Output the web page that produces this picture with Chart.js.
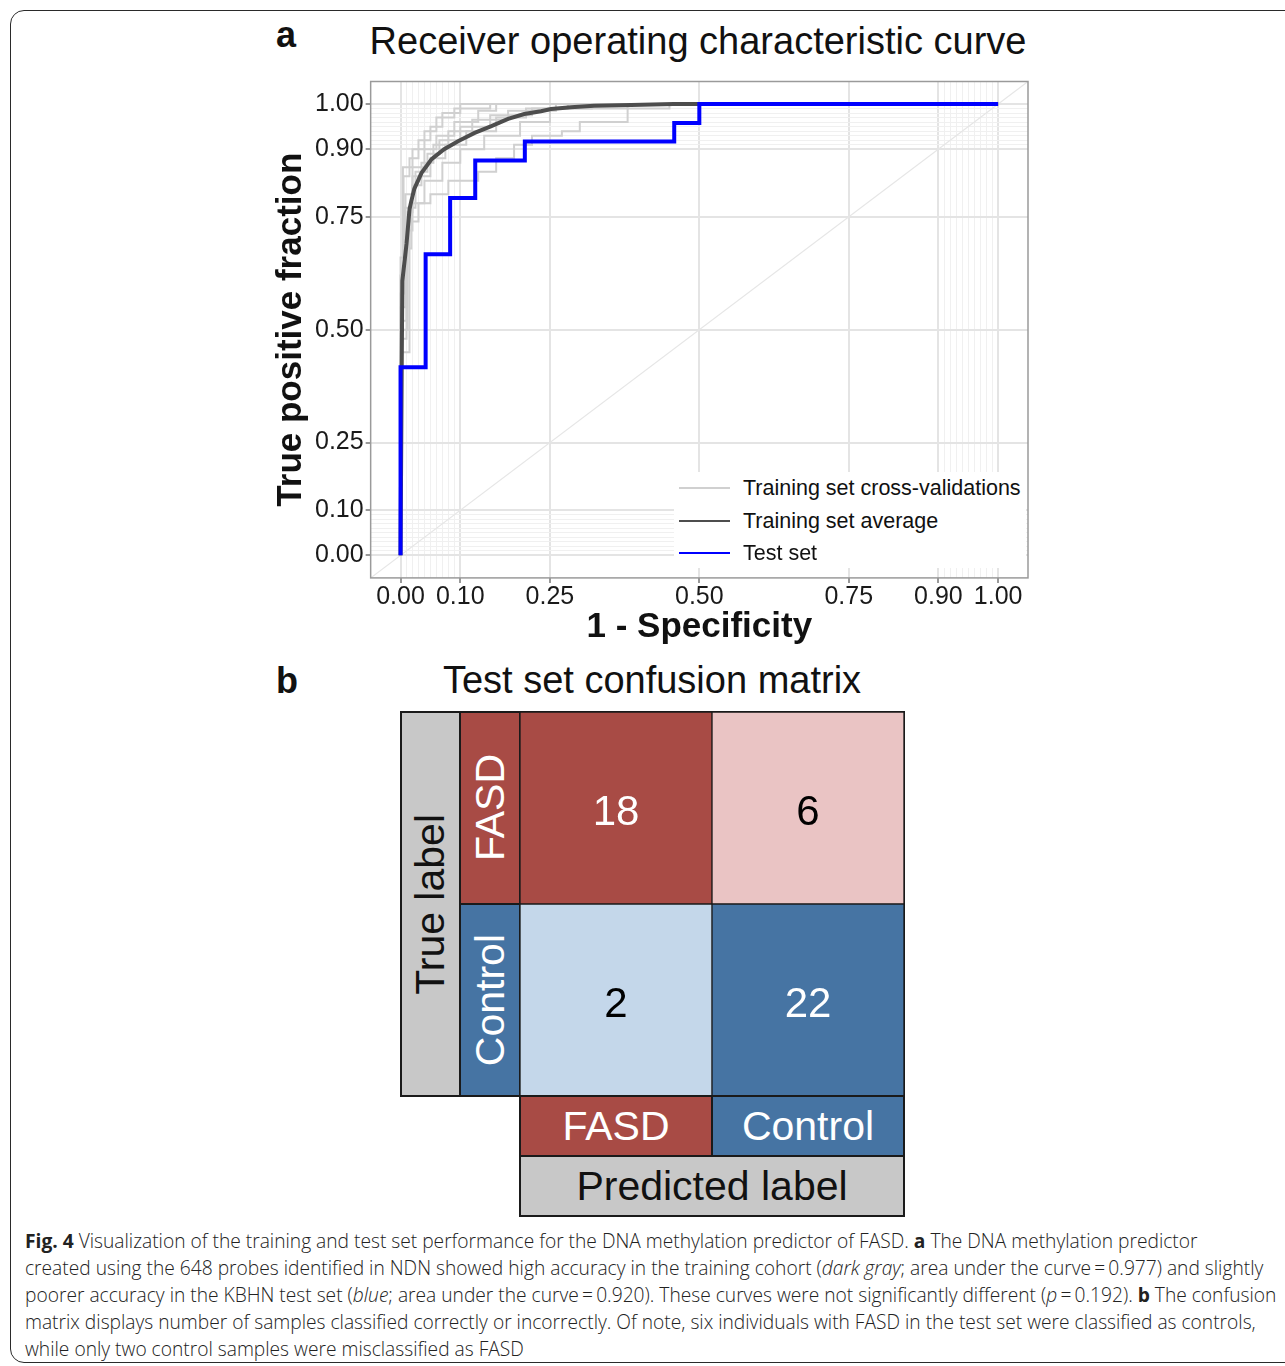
<!DOCTYPE html>
<html>
<head>
<meta charset="utf-8">
<title>Fig. 4 ROC curve and confusion matrix</title>
<script src="https://cdn.jsdelivr.net/npm/chart.js@4.4.0/dist/chart.umd.min.js"></script>
<style>
  html, body { margin: 0; padding: 0; background: #fff; }
  body { width: 1285px; height: 1366px; position: relative; overflow: hidden; font-family: "Liberation Sans", Arial, sans-serif; color: #111; }
  .frame { position: absolute; left: 10px; top: 10px; width: 1300px; height: 1353px; border: 1.5px solid #2a2a2a; border-radius: 14px; box-sizing: border-box; }
  .letter { position: absolute; font-size: 36px; line-height: 36px; font-weight: bold; }
  .title { position: absolute; font-size: 38px; line-height: 38px; white-space: nowrap; transform: translateX(-50%); }
  #rocWrap { position: absolute; left: 250px; top: 67px; width: 790px; height: 581px; }
  #legend { position: absolute; left: 674px; top: 472px; width: 352px; height: 96px; background: #fff; }
  .leg-row { position: absolute; left: 0; height: 32px; width: 352px; }
  .leg-line { position: absolute; left: 5px; width: 51px; top: 15px; height: 2px; }
  .leg-text { position: absolute; left: 69px; top: 0; line-height: 32px; font-size: 21.5px; white-space: nowrap; color: #111; }
  .box { position: absolute; box-sizing: border-box; border: 2px solid #1a1a1a; display: flex; align-items: center; justify-content: center; font-size: 41px; white-space: nowrap; }
  .vert span { writing-mode: vertical-rl; transform: rotate(180deg); }
  #cmWrap { position: absolute; left: 519px; top: 711px; width: 386px; height: 386px; box-sizing: border-box; border: 1px solid #1a1a1a; }
  .caption { position: absolute; left: 25px; top: 1227px; font-family: "Open Sans", sans-serif; font-weight: 300; font-size: 19.2px; line-height: 27px; color: #222; }
  .caption b { font-weight: 700; }
  .caption div { white-space: nowrap; }
</style>
</head>
<body>
<div class="frame"></div>

<div class="letter" style="left:276px; top:17px;">a</div>
<div class="title" style="left:698px; top:22px;">Receiver operating characteristic curve</div>
<div id="rocWrap"><canvas id="rocChart"></canvas></div>
<div id="legend"></div>

<div class="letter" style="left:276px; top:663px;">b</div>
<div class="title" style="left:652px; top:661px;">Test set confusion matrix</div>

<div class="box vert" style="left:400px; top:711px; width:61px; height:386px; background:#c8c8c8; color:#111;"><span>True label</span></div>
<div class="box vert" id="rowFasd" style="left:459px; top:711px; width:62px; height:194px; color:#fff;"><span></span></div>
<div class="box vert" id="rowControl" style="left:459px; top:903px; width:62px; height:194px; color:#fff;"><span></span></div>
<div id="cmWrap"><canvas id="cmChart"></canvas></div>
<div class="box" id="colFasd" style="left:519px; top:1095px; width:194px; height:62px; color:#fff;"></div>
<div class="box" id="colControl" style="left:711px; top:1095px; width:194px; height:62px; color:#fff;"></div>
<div class="box" style="left:519px; top:1155px; width:386px; height:62px; background:#c8c8c8; color:#111;">Predicted label</div>

<div class="caption">
  <div><b>Fig. 4</b> Visualization of the training and test set performance for the DNA methylation predictor of FASD. <b>a</b> The DNA methylation predictor</div>
  <div>created using the 648 probes identified in NDN showed high accuracy in the training cohort (<i>dark gray</i>; area under the curve&thinsp;=&thinsp;0.977) and slightly</div>
  <div>poorer accuracy in the KBHN test set (<i>blue</i>; area under the curve&thinsp;=&thinsp;0.920). These curves were not significantly different (<i>p</i>&thinsp;=&thinsp;0.192). <b>b</b> The confusion</div>
  <div>matrix displays number of samples classified correctly or incorrectly. Of note, six individuals with FASD in the test set were classified as controls,</div>
  <div>while only two control samples were misclassified as FASD</div>
</div>

<script>
// ---- ROC data: [1 - specificity, true positive fraction] ----
const testSet = [[0, 0], [0, 0.417], [0.042, 0.417], [0.042, 0.667], [0.083, 0.667], [0.083, 0.792],
  [0.125, 0.792], [0.125, 0.875], [0.208, 0.875], [0.208, 0.917], [0.458, 0.917], [0.458, 0.958],
  [0.5, 0.958], [0.5, 1], [1, 1]];

const trainingAverage = [[0, 0], [0.002, 0.415], [0.003, 0.608], [0.010, 0.690], [0.015, 0.767],
  [0.018, 0.785], [0.023, 0.812], [0.035, 0.847], [0.052, 0.878], [0.073, 0.900], [0.097, 0.918],
  [0.124, 0.936], [0.152, 0.951], [0.180, 0.967], [0.207, 0.978], [0.235, 0.984], [0.252, 0.989],
  [0.285, 0.993], [0.324, 0.996], [0.386, 0.998], [0.457, 1], [1, 1]];

const cvFold1 = [[0, 0], [0, 0.62], [0.005, 0.62], [0.005, 0.84], [0.015, 0.84], [0.015, 0.88], [0.03, 0.88],
  [0.03, 0.92], [0.05, 0.92], [0.05, 0.95], [0.07, 0.95], [0.07, 0.98], [0.10, 0.98], [0.10, 1], [1, 1]];
const cvFold2 = [[0, 0], [0, 0.55], [0.008, 0.55], [0.008, 0.80], [0.02, 0.80], [0.02, 0.86], [0.04, 0.86],
  [0.04, 0.90], [0.06, 0.90], [0.06, 0.93], [0.09, 0.93], [0.09, 0.96], [0.13, 0.96], [0.13, 0.985],
  [0.16, 0.985], [0.16, 1], [1, 1]];
const cvFold3 = [[0, 0], [0, 0.48], [0.01, 0.48], [0.01, 0.72], [0.02, 0.72], [0.02, 0.82], [0.035, 0.82],
  [0.035, 0.87], [0.055, 0.87], [0.055, 0.91], [0.08, 0.91], [0.08, 0.94], [0.12, 0.94], [0.12, 0.965],
  [0.18, 0.965], [0.18, 0.985], [0.26, 0.985], [0.26, 1], [1, 1]];
const cvFold4 = [[0, 0], [0, 0.45], [0.015, 0.45], [0.015, 0.74], [0.03, 0.74], [0.03, 0.78], [0.05, 0.78],
  [0.05, 0.80], [0.08, 0.80], [0.08, 0.83], [0.13, 0.83], [0.13, 0.85], [0.16, 0.85], [0.16, 0.88],
  [0.19, 0.88], [0.19, 0.91], [0.22, 0.91], [0.22, 0.93], [0.27, 0.93], [0.27, 0.94], [0.30, 0.94],
  [0.30, 0.96], [0.38, 0.96], [0.38, 0.99], [0.45, 0.99], [0.45, 1], [1, 1]];
const cvFold5 = [[0, 0], [0, 0.58], [0.006, 0.58], [0.006, 0.77], [0.025, 0.77], [0.025, 0.85], [0.045, 0.85],
  [0.045, 0.89], [0.065, 0.89], [0.065, 0.92], [0.10, 0.92], [0.10, 0.95], [0.15, 0.95], [0.15, 0.975],
  [0.22, 0.975], [0.22, 0.99], [0.32, 0.99], [0.32, 1], [1, 1]];
const cvFold6 = [[0, 0], [0, 0.52], [0.01, 0.52], [0.01, 0.68], [0.018, 0.68], [0.018, 0.78], [0.04, 0.78],
  [0.04, 0.83], [0.07, 0.83], [0.07, 0.87], [0.10, 0.87], [0.10, 0.90], [0.14, 0.90], [0.14, 0.93],
  [0.20, 0.93], [0.20, 0.96], [0.25, 0.96], [0.25, 0.99], [0.38, 0.99], [0.38, 1], [1, 1]];
const cvFold7 = [[0, 0], [0, 0.66], [0.004, 0.66], [0.004, 0.86], [0.02, 0.86], [0.02, 0.90], [0.04, 0.90],
  [0.04, 0.94], [0.06, 0.94], [0.06, 0.97], [0.09, 0.97], [0.09, 0.99], [0.15, 0.99], [0.15, 1], [1, 1]];
const cvFold8 = [[0, 0], [0, 0.50], [0.012, 0.50], [0.012, 0.76], [0.02, 0.76], [0.02, 0.84], [0.05, 0.84],
  [0.05, 0.88], [0.075, 0.88], [0.075, 0.91], [0.11, 0.91], [0.11, 0.94], [0.16, 0.94], [0.16, 0.97],
  [0.21, 0.97], [0.21, 0.99], [0.28, 0.99], [0.28, 1], [1, 1]];
const cvFolds = [cvFold1, cvFold2, cvFold3, cvFold4, cvFold5, cvFold6, cvFold7, cvFold8];

const chanceLine = [[-0.05, -0.05], [1.05, 1.05]];

// axis breaks (plotROC style: majors plus 0.01 minors near the ends)
const majorBreaks = [0, 0.1, 0.25, 0.5, 0.75, 0.9, 1];
const minorBreaks = [0.01, 0.02, 0.03, 0.04, 0.05, 0.06, 0.07, 0.08, 0.09,
  0.91, 0.92, 0.93, 0.94, 0.95, 0.96, 0.97, 0.98, 0.99];
const allBreaks = majorBreaks.concat(minorBreaks).sort((a, b) => a - b);

// ---- confusion matrix data ----
const predictedLabels = ['FASD', 'Control'];
const trueLabels = ['FASD', 'Control'];
const fasdRowCounts = [18, 6];
const controlRowCounts = [2, 22];

const CV_COLOR = '#d0d0d0';
const AVG_COLOR = '#4d4d4d';
const TEST_COLOR = '#0000ff';
const RED = '#a84b45', PINK = '#eac4c4', LIGHTBLUE = '#c4d7ea', BLUE = '#4674a3';

Chart.defaults.font.family = '"Liberation Sans", Arial, sans-serif';
Chart.defaults.color = '#111';

const toXY = pts => pts.map(p => ({ x: p[0], y: p[1] }));
const isMajor = v => majorBreaks.includes(v);

const datasets = [
  { label: 'Test set', data: toXY(testSet), borderColor: TEST_COLOR, borderWidth: 4, order: 0 },
  { label: 'Training set average', data: toXY(trainingAverage), borderColor: AVG_COLOR, borderWidth: 4, order: 1 }
];
cvFolds.forEach(fold => {
  datasets.push({ label: 'Training set cross-validations', data: toXY(fold), borderColor: CV_COLOR, borderWidth: 2, order: 2 });
});
datasets.push({ label: 'chance', data: toXY(chanceLine), borderColor: '#e6e6e6', borderWidth: 1.2, order: 3 });

// panel border like ggplot theme_bw
const panelBorder = {
  id: 'panelBorder',
  afterDraw(chart) {
    const { ctx, chartArea: a } = chart;
    ctx.save();
    ctx.strokeStyle = '#9a9a9a';
    ctx.lineWidth = 1.5;
    ctx.strokeRect(a.left, a.top, a.right - a.left, a.bottom - a.top);
    ctx.restore();
  }
};

function axisOptions(titleText, isX) {
  return {
    type: 'linear',
    min: -0.05,
    max: 1.05,
    afterBuildTicks: axis => { axis.ticks = allBreaks.map(v => ({ value: v })); },
    ticks: {
      autoSkip: false,
      maxRotation: 0,
      padding: 2,
      color: '#1a1a1a',
      font: { size: 25, lineHeight: 1 },
      callback: v => isMajor(v) ? v.toFixed(2) : ''
    },
    grid: {
      color: c => (c.tick && isMajor(c.tick.value)) ? '#e4e4e4' : '#f0f0f0',
      lineWidth: c => (c.tick && isMajor(c.tick.value)) ? 2 : 1,
      tickColor: c => (c.tick && isMajor(c.tick.value)) ? '#777' : 'rgba(0,0,0,0)',
      tickLength: 5,
      tickWidth: 1.5
    },
    border: { display: false },
    title: {
      display: true,
      text: titleText,
      color: '#111',
      font: { size: 35, weight: 'bold', lineHeight: isX ? 0.86 : 1 },
      padding: isX ? { top: 0, bottom: 6 } : { top: 24, bottom: 4 }
    }
  };
}

new Chart(document.getElementById('rocChart'), {
  type: 'scatter',
  data: { datasets },
  options: {
    animation: false,
    responsive: true,
    maintainAspectRatio: false,
    showLine: true,
    elements: { point: { radius: 0 }, line: { tension: 0, borderJoinStyle: 'miter' } },
    layout: { padding: { top: 0, right: 12, bottom: 0, left: 0 } },
    plugins: { legend: { display: false }, tooltip: { enabled: false } },
    scales: {
      x: axisOptions('1 - Specificity', true),
      y: axisOptions('True positive fraction', false)
    }
  },
  plugins: [panelBorder]
});

// legend (inside the panel, bottom right)
const legendItems = [
  { text: 'Training set cross-validations', color: CV_COLOR },
  { text: 'Training set average', color: AVG_COLOR },
  { text: 'Test set', color: TEST_COLOR }
];
const legendEl = document.getElementById('legend');
legendItems.forEach((item, i) => {
  const row = document.createElement('div');
  row.className = 'leg-row';
  row.style.top = (i * 32.5) + 'px';
  row.innerHTML = '<div class="leg-line" style="background:' + item.color + '"></div>' +
    '<div class="leg-text">' + item.text + '</div>';
  legendEl.appendChild(row);
});

// confusion matrix strips
document.querySelector('#rowFasd span').textContent = trueLabels[0];
document.querySelector('#rowControl span').textContent = trueLabels[1];
document.getElementById('rowFasd').style.background = RED;
document.getElementById('rowControl').style.background = BLUE;
document.getElementById('colFasd').textContent = predictedLabels[0];
document.getElementById('colControl').textContent = predictedLabels[1];
document.getElementById('colFasd').style.background = RED;
document.getElementById('colControl').style.background = BLUE;

// counts written in the middle of each tile
const cellText = {
  id: 'cellText',
  afterDatasetsDraw(chart) {
    const ctx = chart.ctx;
    chart.data.datasets.forEach((ds, di) => {
      chart.getDatasetMeta(di).data.forEach((bar, i) => {
        const p = bar.getProps(['x', 'y', 'base'], true);
        ctx.save();
        ctx.font = '42px "Liberation Sans", Arial, sans-serif';
        ctx.fillStyle = ds.textColor[i];
        ctx.textAlign = 'center';
        ctx.textBaseline = 'middle';
        ctx.fillText(String(ds.counts[i]), p.x, (p.y + p.base) / 2 + 5);
        ctx.restore();
      });
    });
  }
};

new Chart(document.getElementById('cmChart'), {
  type: 'bar',
  data: {
    labels: predictedLabels,
    datasets: [
      { label: trueLabels[1], counts: controlRowCounts, data: controlRowCounts.map(() => 1),
        backgroundColor: [LIGHTBLUE, BLUE], textColor: ['#000', '#fff'] },
      { label: trueLabels[0], counts: fasdRowCounts, data: fasdRowCounts.map(() => 1),
        backgroundColor: [RED, PINK], textColor: ['#fff', '#000'] }
    ]
  },
  options: {
    animation: false,
    responsive: true,
    maintainAspectRatio: false,
    layout: { padding: 0 },
    datasets: { bar: { barPercentage: 1, categoryPercentage: 1, borderWidth: 1, borderColor: '#1a1a1a', borderSkipped: false } },
    plugins: { legend: { display: false }, tooltip: { enabled: false } },
    scales: {
      x: { display: false, stacked: true },
      y: { display: false, stacked: true, min: 0, max: 2 }
    }
  },
  plugins: [cellText]
});
</script>
</body>
</html>
